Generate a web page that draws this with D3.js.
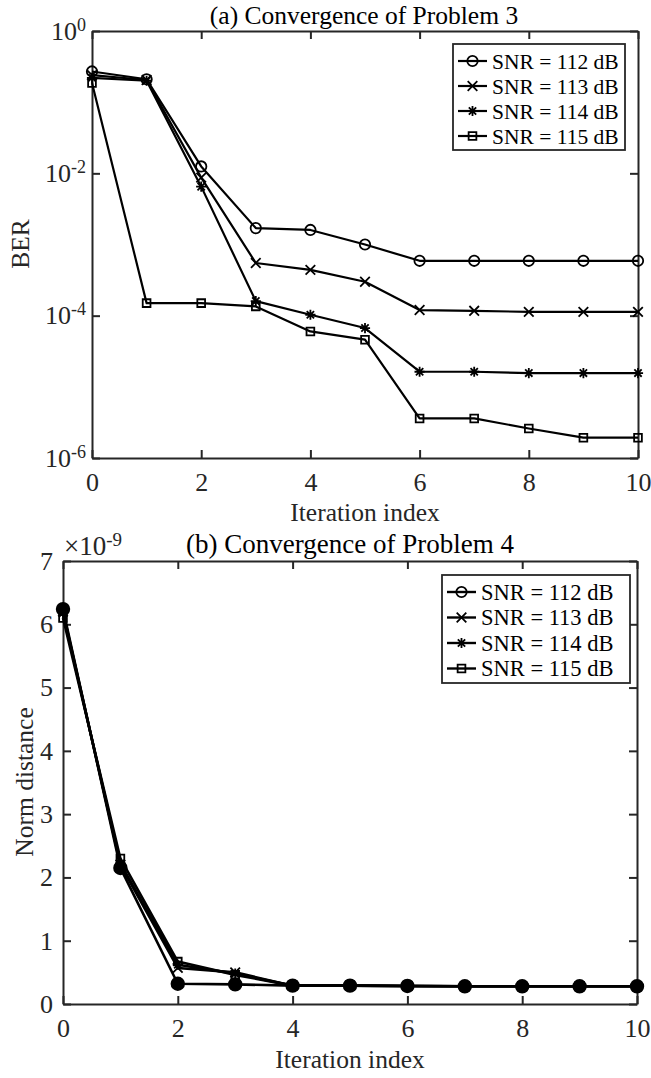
<!DOCTYPE html>
<html>
<head>
<meta charset="utf-8">
<script src="https://cdn.jsdelivr.net/npm/d3@7"></script>
<style>
  body { margin: 0; background: #fff; }
  svg { display: block; font-family: "Liberation Serif", "Times New Roman", serif; }
</style>
</head>
<body>
<div id="chart"></div>
<script>
// iteration index and legend names
var iterations = [0, 1, 2, 3, 4, 5, 6, 7, 8, 9, 10];
var snrNames = ["SNR = 112 dB", "SNR = 113 dB", "SNR = 114 dB", "SNR = 115 dB"];
var markerTypes = ["circle", "x", "asterisk", "square"];

// (a) BER per iteration
var ber112 = [0.27, 0.21, 0.0125, 1.7e-3, 1.6e-3, 1.0e-3, 5.9e-4, 5.9e-4, 5.9e-4, 5.9e-4, 5.9e-4];
var ber113 = [0.24, 0.205, 8.7e-3, 5.5e-4, 4.4e-4, 3.0e-4, 1.2e-4, 1.17e-4, 1.13e-4, 1.13e-4, 1.13e-4];
var ber114 = [0.22, 0.2, 6.5e-3, 1.6e-4, 1.03e-4, 6.7e-5, 1.63e-5, 1.63e-5, 1.56e-5, 1.56e-5, 1.56e-5];
var ber115 = [0.186, 1.5e-4, 1.5e-4, 1.35e-4, 6.0e-5, 4.6e-5, 3.6e-6, 3.6e-6, 2.6e-6, 1.93e-6, 1.93e-6];
var berTicks = [1e-6, 1e-4, 1e-2, 1];

// (b) norm distance per iteration
var norm112 = [6.24e-9, 2.15e-9, 0.32e-9, 0.31e-9, 0.29e-9, 0.29e-9, 0.285e-9, 0.28e-9, 0.28e-9, 0.28e-9, 0.28e-9];
var norm113 = [6.2e-9, 2.2e-9, 0.57e-9, 0.5e-9, 0.29e-9, 0.29e-9, 0.285e-9, 0.28e-9, 0.28e-9, 0.28e-9, 0.28e-9];
var norm114 = [6.18e-9, 2.22e-9, 0.62e-9, 0.48e-9, 0.29e-9, 0.29e-9, 0.285e-9, 0.28e-9, 0.28e-9, 0.28e-9, 0.28e-9];
var norm115 = [6.1e-9, 2.3e-9, 0.67e-9, 0.46e-9, 0.29e-9, 0.29e-9, 0.285e-9, 0.28e-9, 0.28e-9, 0.28e-9, 0.28e-9];
var normTicks = [0, 1e-9, 2e-9, 3e-9, 4e-9, 5e-9, 6e-9, 7e-9];

var xTicks = [0, 2, 4, 6, 8, 10];

var axisColor = "#262626";

var svg = d3.select("#chart")
  .append("svg")
    .attr("width", 651)
    .attr("height", 1078);

// MATLAB style '*' marker: plus and cross together
var symbolStar = {
  draw: function(ctx, size) {
    var r = Math.sqrt(size) * 0.6, d = r * 0.72;
    ctx.moveTo(-r, 0); ctx.lineTo(r, 0);
    ctx.moveTo(0, -r); ctx.lineTo(0, r);
    ctx.moveTo(-d, -d); ctx.lineTo(d, d);
    ctx.moveTo(-d, d); ctx.lineTo(d, -d);
  }
};

function markerPath(type, filled) {
  if (type == "circle") return d3.symbol().type(d3.symbolCircle).size(filled ? 125 : 85)();
  if (type == "x") return d3.symbol().type(d3.symbolX).size(62)();
  if (type == "asterisk") return d3.symbol().type(symbolStar).size(72)();
  return d3.symbol().type(d3.symbolSquare).size(60)();
}

function drawSeries(g, x, y, seriesList, filledCircle, lw) {
  var line = d3.line()
    .x(function(d) { return x(d.i); })
    .y(function(d) { return y(d.v); });

  seriesList.forEach(function(vals, k) {
    var pts = iterations.map(function(it, j) { return {i: it, v: vals[j]}; });
    g.append("path")
      .datum(pts)
      .attr("d", line)
      .attr("fill", "none")
      .attr("stroke", "#000")
      .attr("stroke-width", lw)
      .attr("stroke-linejoin", "round");
    var fillIt = filledCircle && markerTypes[k] == "circle";
    g.selectAll(".mk" + k)
      .data(pts)
      .enter()
      .append("path")
        .attr("class", "mk" + k)
        .attr("transform", function(d) { return "translate(" + x(d.i) + "," + y(d.v) + ")"; })
        .attr("d", markerPath(markerTypes[k], fillIt))
        .attr("fill", fillIt ? "#000" : "none")
        .attr("stroke", "#000")
        .attr("stroke-width", 1.8);
  });
}

function drawFrame(g, x, y, yTicks, yFormat, yPad) {
  var x0 = x.range()[0], x1 = x.range()[1], y0 = y.range()[0], y1 = y.range()[1];

  g.append("g")
    .attr("transform", "translate(0," + y0 + ")")
    .call(d3.axisBottom(x).tickValues(xTicks).tickSize(-8).tickSizeOuter(0).tickPadding(15));
  g.append("g")
    .attr("transform", "translate(0," + y1 + ")")
    .call(d3.axisTop(x).tickValues(xTicks).tickSize(-8).tickSizeOuter(0).tickFormat(""));
  var left = g.append("g")
    .attr("transform", "translate(" + x0 + ",0)")
    .call(d3.axisLeft(y).tickValues(yTicks).tickSize(-8).tickSizeOuter(0).tickPadding(yPad).tickFormat(yFormat));
  g.append("g")
    .attr("transform", "translate(" + x1 + ",0)")
    .call(d3.axisRight(y).tickValues(yTicks).tickSize(-8).tickSizeOuter(0).tickFormat(""));

  g.selectAll(".domain, .tick line")
    .attr("stroke", axisColor)
    .attr("stroke-width", 2);
  g.selectAll(".tick text")
    .attr("fill", axisColor)
    .style("font-family", "Liberation Serif")
    .style("font-size", "26px");
  return left;
}

function drawLegend(g, left, top, w, rowH, fontSize, lw) {
  g.append("rect")
    .attr("x", left).attr("y", top)
    .attr("width", w).attr("height", rowH * snrNames.length + 6)
    .attr("fill", "#fff")
    .attr("stroke", axisColor)
    .attr("stroke-width", 1.8);
  snrNames.forEach(function(name, k) {
    var cy = top + 17 + k * rowH;
    g.append("line")
      .attr("x1", left + 5).attr("x2", left + 34)
      .attr("y1", cy).attr("y2", cy)
      .attr("stroke", "#000").attr("stroke-width", lw);
    g.append("path")
      .attr("transform", "translate(" + (left + 19.5) + "," + cy + ")")
      .attr("d", markerPath(markerTypes[k], false))
      .attr("fill", "none")
      .attr("stroke", "#000")
      .attr("stroke-width", 1.8);
    g.append("text")
      .attr("x", left + 39).attr("y", cy + 7.5)
      .style("font-size", fontSize + "px")
      .attr("fill", "#000")
      .text(name);
  });
}

// ---------- (a) Convergence of Problem 3 ----------
var gA = svg.append("g");
var xA = d3.scaleLinear().domain([0, 10]).range([92, 638]);
var yA = d3.scaleLog().domain([1e-6, 1]).range([458, 31]);

var leftA = drawFrame(gA, xA, yA, berTicks, function() { return ""; }, 6);
leftA.selectAll(".tick text")
  .text(null)
  .each(function(d) {
    var t = d3.select(this);
    t.append("tspan").text("10");
    t.append("tspan")
      .attr("dy", "-0.5em")
      .style("font-size", "18px")
      .text(Math.round(Math.log10(d)));
  });

drawSeries(gA, xA, yA, [ber112, ber113, ber114, ber115], false, 2.2);
drawLegend(gA, 453, 44, 172, 25, 21.5, 2.2);

gA.append("text")
  .attr("x", 364).attr("y", 24)
  .attr("text-anchor", "middle")
  .style("font-size", "25.5px")
  .attr("fill", "#000")
  .text("(a) Convergence of Problem 3");

gA.append("text")
  .attr("x", 365).attr("y", 521)
  .attr("text-anchor", "middle")
  .style("font-size", "25.5px")
  .attr("fill", axisColor)
  .text("Iteration index");

gA.append("text")
  .attr("transform", "translate(29,244) rotate(-90)")
  .attr("text-anchor", "middle")
  .style("font-size", "25.5px")
  .attr("fill", axisColor)
  .text("BER");

// ---------- (b) Convergence of Problem 4 ----------
var gB = svg.append("g");
var xB = d3.scaleLinear().domain([0, 10]).range([63, 637]);
var yB = d3.scaleLinear().domain([0, 7e-9]).range([1004, 561]);

drawFrame(gB, xB, yB, normTicks, function(d) { return Math.round(d / 1e-9); }, 10);

drawSeries(gB, xB, yB, [norm112, norm113, norm114, norm115], true, 2.6);
drawLegend(gB, 442, 575, 188, 25.5, 22.5, 2.4);

gB.append("text")
  .attr("x", 350).attr("y", 553)
  .attr("text-anchor", "middle")
  .style("font-size", "27px")
  .attr("fill", "#000")
  .text("(b) Convergence of Problem 4");

var expo = gB.append("text")
  .attr("x", 64).attr("y", 555)
  .style("font-size", "27px")
  .attr("fill", axisColor);
expo.append("tspan").text("\u00d710");
expo.append("tspan").attr("dy", "-0.5em").style("font-size", "19px").text("-9");

gB.append("text")
  .attr("x", 350).attr("y", 1068)
  .attr("text-anchor", "middle")
  .style("font-size", "25.5px")
  .attr("fill", axisColor)
  .text("Iteration index");

gB.append("text")
  .attr("transform", "translate(33,782) rotate(-90)")
  .attr("text-anchor", "middle")
  .style("font-size", "25.5px")
  .attr("fill", axisColor)
  .text("Norm distance");
</script>
</body>
</html>
